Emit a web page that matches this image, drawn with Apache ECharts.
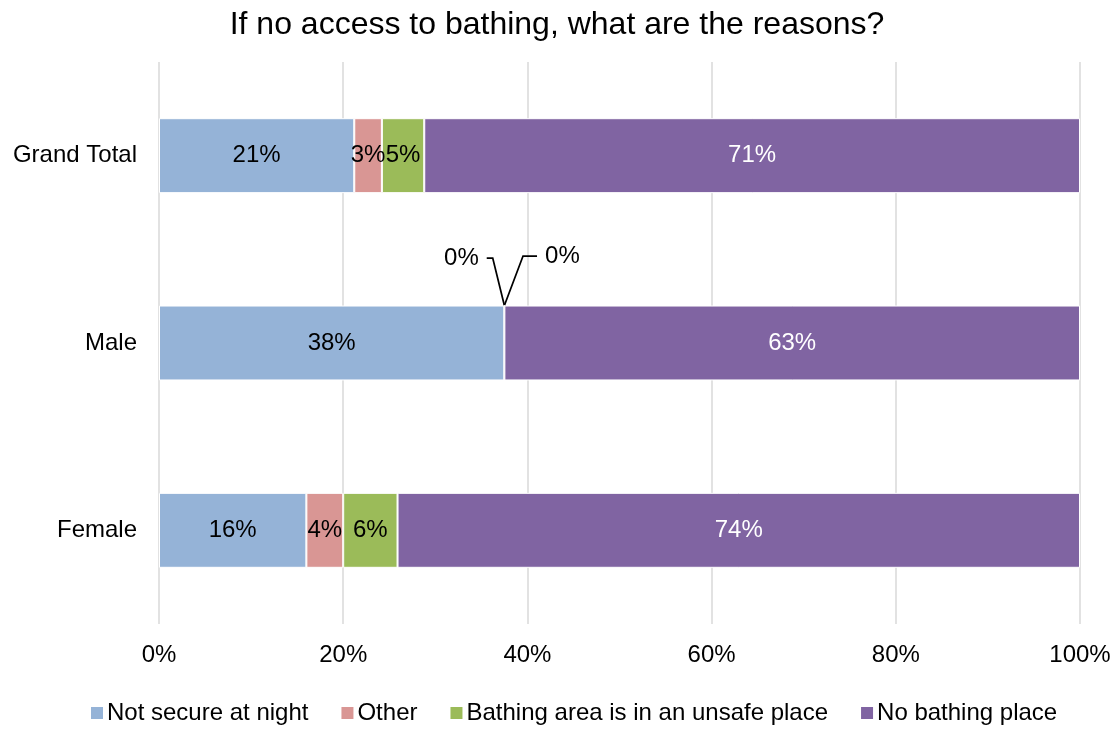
<!DOCTYPE html>
<html>
<head>
<meta charset="utf-8">
<script src="https://cdn.jsdelivr.net/npm/echarts@6/dist/echarts.min.js"></script>
<style>
  html, body { margin: 0; padding: 0; background: #fff; }
  #chart { width: 1114px; height: 732px; }
</style>
</head>
<body>
<div id="chart"></div>
<script>
// Reasons for lacking bathing access, share of respondents (%)
const categories = ['Female', 'Male', 'Grand Total'];
const seriesNames = ['Not secure at night', 'Other', 'Bathing area is in an unsafe place', 'No bathing place'];
const notSecure = [16.0, 37.5, 21.2];
const other = [4.0, 0, 3.0];
const unsafePlace = [5.9, 0, 4.6];
const noPlace = [74.1, 62.5, 71.2];
const xTicks = [0, 20, 40, 60, 80, 100];

const colors = ['#95B3D7', '#D99694', '#9BBB59', '#8064A2'];
const labelColors = ['#000', '#000', '#000', '#fff'];
const font = 'Liberation Sans, Arial, sans-serif';

const allValues = [notSecure, other, unsafePlace, noPlace];

// Zero-width segments get their labels pulled out above the bar with a guide line
function toData(values, seriesIdx) {
  return values.map(v => v === 0
    ? {
        value: v,
        label: { padding: [0, 8, 0, 8], backgroundColor: 'rgba(255,255,255,0)' },
        labelLine: {
          show: true,
          length2: seriesIdx === 1 ? 6 : 14,
          lineStyle: { color: '#000', width: 1.75 }
        }
      }
    : v);
}

const series = allValues.map((vals, i) => ({
  name: seriesNames[i],
  type: 'bar',
  stack: 'total',
  barWidth: '40%',
  data: toData(vals, i),
  itemStyle: { color: colors[i], borderColor: '#fff', borderWidth: 1 },
  label: {
    show: true,
    position: 'inside',
    color: labelColors[i],
    fontFamily: font,
    fontSize: 24,
    formatter: p => Math.round(p.value) + '%'
  },
  labelLayout: function (params) {
    if (vals[params.dataIndex] === 0) {
      return i === 1 ? { dx: -43, dy: -85 } : { dx: 58, dy: -87 };
    }
    return {};
  }
}));

const chart = echarts.init(document.getElementById('chart'), null, { renderer: 'canvas' });
chart.setOption({
  animation: false,
  backgroundColor: '#fff',
  title: {
    text: 'If no access to bathing, what are the reasons?',
    left: 'center',
    top: 4,
    textStyle: { fontFamily: font, fontSize: 32, fontWeight: 'normal', color: '#000' }
  },
  legend: {
    bottom: 2,
    left: 86,
    icon: 'rect',
    itemWidth: 12,
    itemHeight: 12,
    itemGap: 33,
    itemStyle: { borderWidth: 0 },
    textStyle: { fontFamily: font, fontSize: 24, color: '#000', padding: [0, 0, 0, -1] },
    data: seriesNames
  },
  grid: { left: 159, right: 34, top: 62, bottom: 108, containLabel: false },
  xAxis: {
    type: 'value',
    min: xTicks[0],
    max: xTicks[xTicks.length - 1],
    interval: xTicks[1] - xTicks[0],
    axisLine: { show: false },
    axisTick: { show: false },
    axisLabel: { fontFamily: font, fontSize: 24, color: '#000', margin: 19, formatter: v => v + '%' },
    splitLine: { show: true, lineStyle: { color: '#D9D9D9', width: 1.5 } }
  },
  yAxis: {
    type: 'category',
    data: categories,
    axisLine: { show: false },
    axisTick: { show: false },
    axisLabel: { fontFamily: font, fontSize: 24, color: '#000', margin: 22 }
  },
  series: series
});
</script>
</body>
</html>
